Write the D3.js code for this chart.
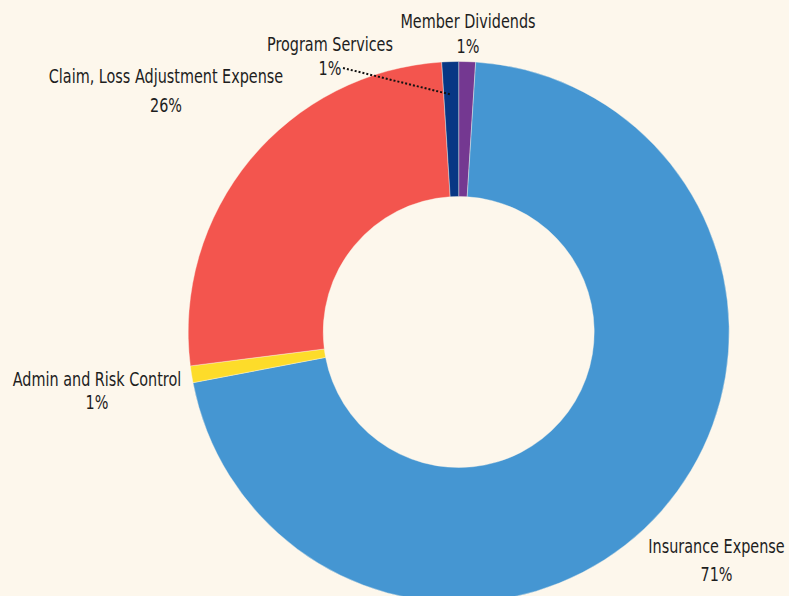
<!DOCTYPE html>
<html>
<head>
<meta charset="utf-8">
<script src="https://cdn.jsdelivr.net/npm/d3@7"></script>
<style>
  html, body { margin: 0; padding: 0; background: #fdf7ec; overflow: hidden; }
  text { font-family: "DejaVu Sans Condensed", "DejaVu Sans", sans-serif; fill: #1e1e1e; }
</style>
</head>
<body>
<svg id="donut-svg"></svg>
<script>
const width = 789;
const height = 596;

// data (clockwise from 12 o'clock)
const categories = ["Member Dividends", "Insurance Expense", "Admin and Risk Control", "Claim, Loss Adjustment Expense", "Program Services"];
const shares = [1, 71, 1, 26, 1];
const pctLabels = ["1%", "71%", "1%", "26%", "1%"];
const colors = ["#743891", "#4596d2", "#fddc2a", "#f3554e", "#083784"];

// layout
const cx = 458.7, cy = 332;
const outerR = 270.5, innerR = 135.5;
const squeeze = 0.8; // reference font is a narrow condensed face

// label anchors: [x, first baseline, second baseline]
const labelPos = {
  "Member Dividends": [468, 28, 53],
  "Insurance Expense": [716.5, 553, 581],
  "Admin and Risk Control": [97, 386, 409],
  "Claim, Loss Adjustment Expense": [166, 83, 112],
  "Program Services": [330, 51, 75],
};

const svg = d3.select("#donut-svg").attr("width", width).attr("height", height);

svg.append("rect").attr("width", width).attr("height", height).attr("fill", "#fdf7ec");

const tableData = categories.map((c, i) => ({ name: c, value: shares[i], pct: pctLabels[i], color: colors[i] }));

const pie = d3.pie().sort(null).value((d) => d.value);
const arc = d3.arc().innerRadius(innerR).outerRadius(outerR);
const arcs = pie(tableData);

const g = svg.append("g").attr("transform", `translate(${cx}, ${cy})`);

g.selectAll("path")
  .data(arcs)
  .join("path")
  .attr("d", arc)
  .attr("fill", (d) => d.data.color)
  .attr("stroke", "#fdf7ec")
  .attr("stroke-width", 0.4);

// leader line for Program Services
const ps = arcs.find((d) => d.data.name === "Program Services");
const psAngle = (ps.startAngle + ps.endAngle) / 2;
const psR = outerR - 33;
svg.append("line")
  .attr("x1", 343)
  .attr("y1", 68)
  .attr("x2", cx + psR * Math.sin(psAngle))
  .attr("y2", cy - psR * Math.cos(psAngle))
  .attr("stroke", "#111")
  .attr("stroke-width", 2)
  .attr("stroke-dasharray", "2,2");

// labels
const labels = svg.append("g")
  .selectAll("g")
  .data(arcs)
  .join("g");

labels.append("text")
  .attr("transform", (d) => `translate(${labelPos[d.data.name][0]}, ${labelPos[d.data.name][1]}) scale(${squeeze}, 1)`)
  .attr("text-anchor", "middle")
  .attr("font-size", "20px")
  .text((d) => d.data.name);

labels.append("text")
  .attr("transform", (d) => `translate(${labelPos[d.data.name][0]}, ${labelPos[d.data.name][2]}) scale(${squeeze}, 1)`)
  .attr("text-anchor", "middle")
  .attr("font-size", "20px")
  .text((d) => d.data.pct);
</script>
</body>
</html>
